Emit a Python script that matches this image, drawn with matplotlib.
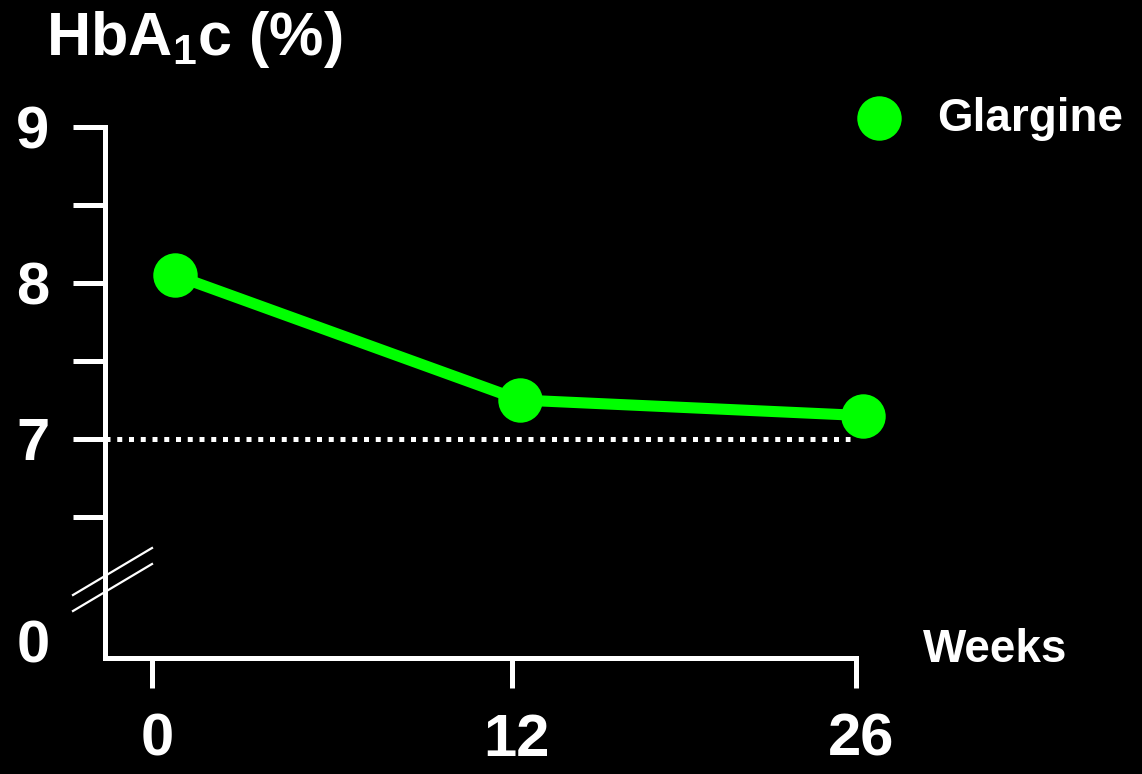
import matplotlib
matplotlib.use("Agg")
import matplotlib.pyplot as plt
import matplotlib.transforms as mtransforms
from matplotlib.lines import Line2D

plt.rcParams['font.family'] = ['Liberation Sans', 'DejaVu Sans']
plt.rcParams['font.weight'] = 'bold'

# Data
weeks = [0, 12, 26]
series_name = "Glargine"
hba1c = [8.05, 7.25, 7.15]
target = 7.0
ytick_values = [5.705, 6.5, 7.0, 7.5, 8.0, 8.5, 9.0]
ytick_labels = ['0', '', '7', '', '8', '', '9']

GREEN = '#00FF00'
W, H = 1142, 774
fig = plt.figure(figsize=(W / 100, H / 100), dpi=100, facecolor='black')

def fx(px):
    return px / W

def fy(py):
    return 1 - py / H

ax = fig.add_axes([fx(105), fy(658), fx(856) - fx(105), fy(127) - fy(658)])
ax.set_facecolor('black')

# categorical-ish x placement: tick positions and slightly offset point positions
tick_pos = [0.0, 1.0, 1.956]
point_pos = [0.064, 1.022, 1.975]
ax.set_xlim(-0.1306, 1.956)
ax.set_ylim(5.596, 9.0)

for s in ['top', 'right']:
    ax.spines[s].set_visible(False)
for s in ['left', 'bottom']:
    ax.spines[s].set_color('white')
    ax.spines[s].set_linewidth(3.6)
    ax.spines[s].set_capstyle('projecting')

# target line
ax.plot([-0.1306, 1.94], [target, target], color='white', lw=3.6,
        linestyle=(0, (1.0, 1.35)), dash_capstyle='butt', zorder=2)

# series
ax.plot(point_pos, hba1c, color=GREEN, lw=8, solid_capstyle='butt',
        marker='o', markersize=32, markeredgewidth=0, clip_on=False, zorder=3)

ax.set_xticks(tick_pos)
ax.set_xticklabels([str(w) for w in weeks])
ax.set_yticks(ytick_values)
ax.set_yticklabels(ytick_labels)
ax.tick_params(axis='both', colors='white', labelsize=43, width=3.6)
ax.tick_params(axis='y', length=23, pad=17)
ax.tick_params(axis='x', length=21.5, pad=18)
ax.yaxis.get_major_ticks()[0].tick1line.set_visible(False)
shift = mtransforms.ScaledTranslation(0.05, 0, fig.dpi_scale_trans)
for lbl in ax.get_xticklabels():
    lbl.set_transform(lbl.get_transform() + shift)
for lbl in ax.get_xticklabels() + ax.get_yticklabels():
    lbl.set_fontweight('bold')

# axis break marks
for (x0, y0, x1, y1) in [(73, 595, 152, 548), (73, 611, 152, 564)]:
    fig.add_artist(Line2D([fx(x0), fx(x1)], [fy(y0), fy(y1)], color='white',
                          lw=1.6, transform=fig.transFigure))

# titles
fig.text(fx(46), fy(55), r'HbA$_{\mathregular{1}}$c (%)', color='white',
         fontsize=44, fontweight='bold', ha='left', va='baseline')
fig.text(fx(995), fy(650), 'Weeks', color='white', fontsize=33,
         fontweight='bold', ha='center', va='center')

# legend
fig.add_artist(Line2D([fx(879)], [fy(118)], marker='o', markersize=32,
                      markeredgewidth=0, color=GREEN, transform=fig.transFigure))
fig.text(fx(937), fy(119), series_name, color='white', fontsize=33,
         fontweight='bold', ha='left', va='center')

fig.savefig('out.png', dpi=100, facecolor='black')
